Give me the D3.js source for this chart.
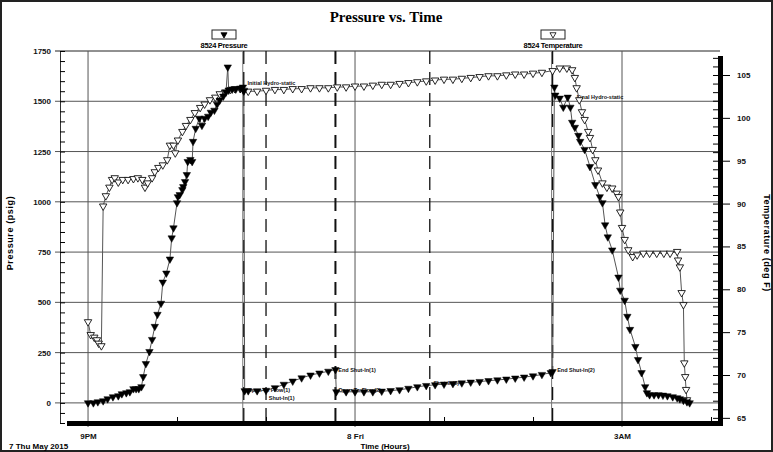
<!DOCTYPE html>
<html>
<head>
<meta charset="utf-8">
<script src="https://cdn.jsdelivr.net/npm/d3@7"></script>
<style>
  body { margin: 0; background: #fff; }
  svg { display: block; font-family: Arial, "Liberation Sans", sans-serif; }
</style>
</head>
<body>
<svg id="chart" width="773" height="452"></svg>
<script>
// hours after 9PM, 7 May 2015
const presHours = [0,0.06,0.11,0.17,0.22,0.28,0.34,0.38,0.43,0.47,0.51,0.54,0.57,0.60,0.62,0.65,0.69,0.72,0.75,0.78,
  0.82,0.84,0.88,0.92,0.94,0.96,1.00,1.01,1.03,1.06,1.07,1.09,1.11,1.12,1.15,1.17,1.18,1.21,1.25,1.28,
  1.31,1.35,1.38,1.42,1.45,1.48,1.52,1.55,1.57,1.58,1.62,1.66,1.71,1.74,1.75,
  1.76,1.80,1.90,2.00,2.10,2.20,2.30,2.40,2.50,2.60,2.70,2.78,
  2.79,2.90,3.00,3.10,3.20,3.30,3.40,3.50,3.60,3.70,3.80,3.90,4.00,4.10,4.20,4.30,4.40,4.50,4.60,4.70,
  4.80,4.90,5.00,5.10,5.20,5.22,
  5.24,5.25,5.30,5.34,5.39,5.42,5.44,5.47,5.51,5.53,5.58,5.64,5.70,5.75,5.78,5.81,5.84,5.89,5.96,5.98,
  6.03,6.06,6.09,6.15,6.18,6.22,6.26,6.28,6.31,6.36,6.41,6.46,6.51,6.57,6.62,6.65,6.69,6.73,6.76];
const presPsig = [0,0,5,10,20,30,35,45,50,55,70,70,70,80,130,195,255,315,380,440,
  495,600,645,715,820,870,995,1025,1035,1060,1075,1100,1135,1200,1210,1200,1300,1365,1415,1380,
  1415,1425,1445,1455,1485,1505,1525,1545,1670,1555,1560,1560,1565,1570,1550,
  60,60,60,62,75,92,108,124,138,148,157,165,
  55,55,55,55,55,58,61,65,72,80,86,90,93,96,99,103,106,110,114,118,
  123,128,134,141,150,155,
  1570,1530,1515,1470,1520,1470,1395,1370,1330,1300,1260,1175,1085,1025,995,885,825,760,625,560,
  510,430,365,280,215,150,80,50,40,40,40,38,35,30,25,20,12,5,0];

const tempHours = [0,0.03,0.07,0.10,0.12,0.15,0.17,0.20,0.24,0.27,0.30,0.34,0.39,0.45,0.51,0.56,0.61,0.64,0.67,0.72,
  0.75,0.79,0.84,0.89,0.92,0.96,0.98,1.01,1.06,1.10,1.15,1.20,1.26,1.31,1.37,1.43,1.48,1.54,1.60,1.65,
  1.71,1.75,1.80,1.90,2.00,2.10,2.20,2.30,2.40,2.50,2.60,2.70,2.80,2.90,3.00,3.10,3.20,3.30,3.40,3.50,
  3.60,3.70,3.80,3.90,4.00,4.10,4.20,4.30,4.40,4.50,4.60,4.70,4.80,4.90,5.00,5.10,5.22,5.30,5.38,5.44,
  5.47,5.49,5.52,5.55,5.58,5.62,5.64,5.67,5.70,5.73,5.78,5.83,5.89,5.94,5.96,5.98,6.00,6.03,6.07,6.12,
  6.17,6.24,6.31,6.39,6.47,6.54,6.62,6.63,6.65,6.67,6.69,6.70,6.71,6.72,6.73];
const tempDegF = [76.2,74.7,74.4,74.1,73.7,73.4,89.7,90.9,91.9,92.8,93.0,92.5,92.8,92.8,92.9,93.0,92.8,91.9,92.4,93.0,
  93.7,94.2,94.5,95.1,96.8,96.8,95.9,97.4,98.4,99.1,99.8,100.6,101.2,101.6,102.1,102.4,102.8,103.0,103.3,103.4,
  103.4,103.2,103.1,103.1,103.2,103.3,103.3,103.4,103.4,103.5,103.5,103.5,103.6,103.6,103.7,103.7,103.8,103.9,103.9,104.0,
  104.1,104.2,104.3,104.4,104.5,104.5,104.6,104.7,104.8,104.9,104.9,105.0,105.1,105.1,105.2,105.3,105.5,105.8,105.8,105.6,
  104.7,103.5,102.1,100.7,99.8,98.4,97.7,96.3,95.1,93.9,92.4,91.9,91.8,91.2,90.8,89.0,87.2,85.8,84.6,83.8,
  84.0,84.2,84.2,84.2,84.2,84.2,84.4,83.4,82.6,79.6,78.2,71.4,69.8,68.3,67.1];

const timeTicks = [0, 3, 6];
const timeLabels = ["9PM", "8 Fri", "3AM"];
const hourTicks = [1, 2, 4, 5, 7];
const psigTicks = [0, 250, 500, 750, 1000, 1250, 1500, 1750];
const degTicks = [65, 70, 75, 80, 85, 90, 95, 100, 105];

const eventHours = [1.75, 2.0, 2.78, 3.84, 5.22];
const annText = ["Initial Hydro-static", "Open To Flow(1)", "Shut-In(1)", "End Shut-In(1)", "Open To Flow(2)",
  "Shut-In(2)", "End Shut-In(2)", "Final Hydro-static"];
const annHours = [1.78, 1.78, 2.02, 2.80, 2.80, 3.87, 5.26, 5.48];
const annPsig = [1590, 65, 25, 165, 65, 100, 165, 1520];

const svg = d3.select("#chart");
const pLeft = 60, pRight = 720, pTop = 51, pBottom = 423;

const x = d3.scaleLinear().domain([-0.315, 7.101]).range([pLeft, pRight]);
const yP = d3.scaleLinear().domain([-100, 1750]).range([pBottom, pTop]);
const yT = d3.scaleLinear().domain([64.4, 107.8]).range([pBottom, pTop]);

const pres = presHours.map((h, i) => ({h: h, v: presPsig[i]}));
const temp = tempHours.map((h, i) => ({h: h, v: tempDegF[i]}));

// frame
svg.append("rect").attr("x", 1).attr("y", 1).attr("width", 771).attr("height", 450)
  .attr("fill", "#fff").attr("stroke", "#222").attr("stroke-width", 2);

svg.append("text").attr("x", 386).attr("y", 22).attr("text-anchor", "middle")
  .attr("font-family", "'Liberation Serif', 'Times New Roman', serif")
  .attr("font-weight", "bold").attr("font-size", 15).text("Pressure vs. Time");

// grid
svg.append("g").selectAll("line").data(psigTicks).join("line")
  .attr("x1", 55).attr("x2", pRight)
  .attr("y1", d => yP(d)).attr("y2", d => yP(d))
  .attr("stroke", d => d == 1750 ? "#222" : "#555").attr("stroke-width", 1);

svg.append("g").selectAll("line").data(timeTicks).join("line")
  .attr("x1", d => x(d)).attr("x2", d => x(d))
  .attr("y1", pTop).attr("y2", pBottom + 4)
  .attr("stroke", "#555").attr("stroke-width", 1);

// event lines
svg.append("g").selectAll("line").data([eventHours[0], eventHours[4]]).join("line")
  .attr("x1", d => x(d) - 1).attr("x2", d => x(d) - 1)
  .attr("y1", pTop).attr("y2", pBottom)
  .attr("stroke", "#777").attr("stroke-width", 1);
svg.append("g").selectAll("line").data(eventHours).join("line")
  .attr("x1", d => x(d)).attr("x2", d => x(d))
  .attr("y1", pTop).attr("y2", pBottom)
  .attr("stroke", "#111")
  .attr("stroke-width", (d, i) => i == 2 ? 2 : 1.3)
  .attr("stroke-dasharray", "13,8");

// left axis
const psigMinor = d3.range(-100, 1751, 50);
svg.append("g").attr("transform", `translate(${pLeft},0)`)
  .call(d3.axisLeft(yP).tickValues(psigMinor).tickSizeInner(-5).tickSizeOuter(0).tickFormat(""))
  .call(g => g.select(".domain").attr("stroke", "#333"));
svg.append("g").attr("transform", `translate(${pLeft},0)`)
  .call(d3.axisLeft(yP).tickValues(psigTicks).tickSize(0).tickPadding(9).tickFormat(d3.format("d")))
  .call(g => g.select(".domain").remove())
  .selectAll("text").attr("font-size", 8).attr("font-weight", "bold").attr("fill", "#111");

// right axis
svg.append("rect").attr("x", 718).attr("y", 56).attr("width", 5).attr("height", pBottom - 56 + 3).attr("fill", "#000");
svg.append("g").attr("transform", "translate(718,0)")
  .call(d3.axisLeft(yT).tickValues(d3.range(65, 108, 1)).tickSize(5).tickFormat(""))
  .call(g => g.select(".domain").remove());
svg.append("g").attr("transform", "translate(718,0)")
  .call(d3.axisRight(yT).tickValues(degTicks).tickSize(12).tickPadding(7))
  .call(g => g.select(".domain").remove())
  .selectAll("text").attr("font-size", 8).attr("font-weight", "bold").attr("fill", "#111");

// bottom axis
svg.append("rect").attr("x", 67).attr("y", pBottom - 2).attr("width", pRight - 67 + 3).attr("height", 5).attr("fill", "#000");
svg.append("g").attr("transform", `translate(0,${pBottom - 2})`)
  .call(d3.axisTop(x).tickValues(hourTicks).tickSize(4).tickFormat(""))
  .call(g => g.select(".domain").remove());
svg.append("g").attr("transform", `translate(0,${pBottom + 1})`)
  .call(d3.axisBottom(x).tickValues(timeTicks).tickSize(0).tickPadding(9).tickFormat((d, i) => timeLabels[i]))
  .call(g => g.select(".domain").remove())
  .selectAll("text").attr("font-size", 8).attr("font-weight", "bold").attr("fill", "#111");

svg.append("text").attr("x", 9).attr("y", 449).attr("font-size", 8).attr("font-weight", "bold").text("7 Thu May 2015");
svg.append("text").attr("x", 385).attr("y", 449).attr("text-anchor", "middle")
  .attr("font-size", 8).attr("font-weight", "bold").text("Time (Hours)");

svg.append("text").attr("transform", "translate(13,233) rotate(-90)").attr("text-anchor", "middle")
  .attr("font-size", 9).attr("font-weight", "bold").attr("letter-spacing", 0.6).text("Pressure (psig)");
svg.append("text").attr("transform", "translate(764,243) rotate(90)").attr("text-anchor", "middle")
  .attr("font-size", 9).attr("font-weight", "bold").attr("letter-spacing", 0.6).text("Temperature (deg F)");

// legend
const legend = [{x: 224, name: "8524 Pressure", fill: "#000"}, {x: 553, name: "8524 Temperature", fill: "#fff"}];
const lg = svg.append("g").selectAll("g").data(legend).join("g").attr("transform", d => `translate(${d.x},0)`);
lg.append("rect").attr("x", -12).attr("y", 30).attr("width", 24).attr("height", 9)
  .attr("fill", "#fff").attr("stroke", "#222").attr("stroke-width", 1);
lg.append("path").attr("d", d3.symbol().type(d3.symbolTriangle).size(16))
  .attr("transform", "translate(0,34.5) rotate(180)")
  .attr("fill", d => d.fill).attr("stroke", "#000").attr("stroke-width", 0.8);
lg.append("text").attr("y", 48).attr("text-anchor", "middle").attr("font-size", 7.5)
  .attr("font-weight", "bold").attr("letter-spacing", -0.3).text(d => d.name);

// annotations
svg.append("g").selectAll("text").data(annText).join("text")
  .attr("x", (d, i) => x(annHours[i]) + 1)
  .attr("y", (d, i) => yP(annPsig[i]) + 2)
  .attr("font-size", 5.5).attr("font-weight", "bold").attr("fill", "#111")
  .text(d => d);

// series
const plot = svg.append("g");
const lineT = d3.line().x(d => x(d.h)).y(d => yT(d.v));
const lineP = d3.line().x(d => x(d.h)).y(d => yP(d.v));
const tri = d3.symbol().type(d3.symbolTriangle).size(24);

plot.append("path").attr("d", lineT(temp)).attr("fill", "none").attr("stroke", "#555").attr("stroke-width", 1);
plot.append("g").selectAll("path").data(temp).join("path")
  .attr("d", tri)
  .attr("transform", d => `translate(${x(d.h)},${yT(d.v)}) rotate(180)`)
  .attr("fill", "#fff").attr("stroke", "#111").attr("stroke-width", 0.9);

plot.append("path").attr("d", lineP(pres)).attr("fill", "none").attr("stroke", "#555").attr("stroke-width", 1);
plot.append("g").selectAll("path").data(pres).join("path")
  .attr("d", tri)
  .attr("transform", d => `translate(${x(d.h)},${yP(d.v)}) rotate(180)`)
  .attr("fill", "#000").attr("stroke", "#000").attr("stroke-width", 0.5);
</script>
</body>
</html>
